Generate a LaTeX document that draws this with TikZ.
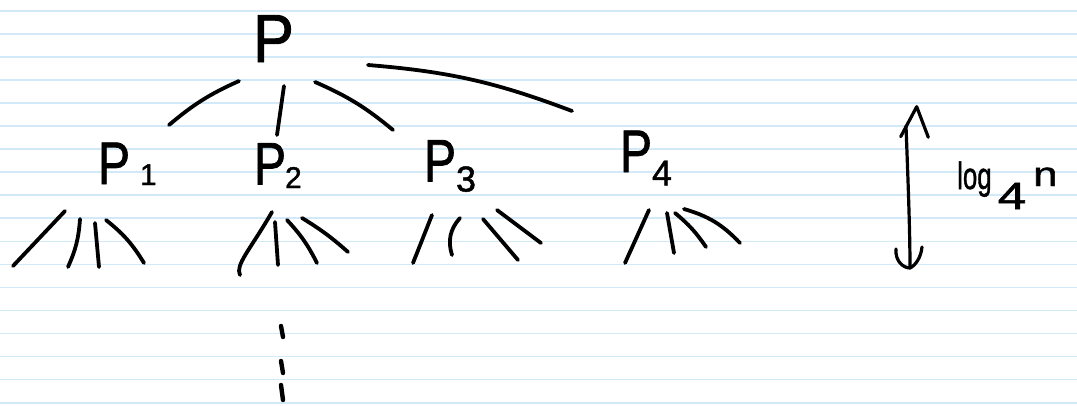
\documentclass[tikz,border=0pt]{standalone}
\usepackage{fontspec}
\setmainfont{Liberation Sans}[FakeBold=1.3]
\usepackage{graphicx}
\definecolor{rulecol}{RGB}{210,233,248}
\newcommand{\subA}{\fontsize{30}{30}\selectfont}
\newcommand{\subB}{\fontsize{36}{36}\selectfont}
\newcommand{\bigP}{\scalebox{0.8}[1]{P}}
\begin{document}
\begin{tikzpicture}[x=1pt,y=-1pt,
  ink/.style={line width=3.8pt, line cap=round, line join=round, draw=black},
  paper/.style={draw=rulecol, line width=1.6pt},
  lbl/.style={inner sep=0pt, outer sep=0pt, anchor=base west, font=\fontsize{60}{60}\selectfont},
]
\useasboundingbox (0,0) rectangle (1077,405);
\fill[white] (0,0) rectangle (1077,405);
\foreach \k in {0,...,17} \draw[paper] (0,10.7+23.06*\k) -- (1077,10.7+23.06*\k);

% labels
\node[inner sep=0pt, anchor=base, font=\fontsize{68}{68}\selectfont] (P) at (273.5,62) {\scalebox{0.9}[1]{P}};
\node[lbl] (P1) at (98,184) {\bigP\kern10pt\raisebox{-1pt}{\subA 1}};
\node[lbl] (P2) at (254,184.5) {\bigP\kern-1pt\raisebox{-3.5pt}{\subA 2}};
\node[lbl] (P3) at (424,181.5) {\bigP\kern0pt\raisebox{-10pt}{\subB 3}};
\node[lbl] (P4) at (620,172) {\bigP\kern0pt\raisebox{-13.5pt}{\subB 4}};
\node[inner sep=0pt, anchor=base west, font=\fontsize{38}{38}\selectfont] (logn) at (957,189)
  {\scalebox{0.68}[1]{log}\kern6pt\raisebox{-20pt}{\scalebox{1.35}[1]{4}}\kern7pt\raisebox{3pt}{\scalebox{1.15}[0.9]{n}}};

% connectors (hand-drawn strokes)
\foreach \n/\xa/\ya/\xb/\yb/\bd in {
  r1/239/81/169/125/-8, r2/284/86/277/135/0, r3/315/82/393/130/8, r4/368/65/572/111/8,
  a1/65/211/13/266/0, a2/80/219/68/267/10, a3/95/223/99/267/0, a4/106/220/144/263/10,
  b2/275/222/278/265/0, b3/287/220/317/263/8, b4/302/218/348/252/5,
  c1/432/215/413/263/0, c2/460/218/452/255/-30, c3/483/219/518/260/0, c4/497/210/541/243/0,
  d1/649/210/625/263/0, d2/667/213/674/253/0, d3/675/213/706/247/8, d4/684/209/740/243/15}
{
  \coordinate (\n s) at (\xa,\ya);
  \coordinate (\n e) at (\xb,\yb);
  \draw[ink] (\n s) to[bend left=\bd] (\n e);
}
\coordinate (b1s) at (272,212);
\coordinate (b1e) at (240,275);
\draw[ink] (b1s) .. controls (250,250) and (235,265) .. (b1e);

% vertical dots under P2
\foreach \n/\ya/\yb in {v1/326/337, v2/361/373, v3/385/400}
{
  \coordinate (\n s) at (281,\ya);
  \coordinate (\n e) at (283,\yb);
  \draw[ink, line width=4.4pt] (\n s) -- (\n e);
}

% height arrow
\coordinate (arS) at (906,126);
\coordinate (arT) at (916.7,106.7);
\coordinate (arB) at (910,268);
\draw[ink, line width=3.2pt] (arS) .. controls (908,180) and (910,230) .. (arB);
\draw[ink, line width=3.2pt] (900.7,136.7) -- (arT) -- (928.3,137.3);
\draw[ink, line width=3.2pt] (896,249) .. controls (895,262) and (904,268) .. (arB) .. controls (916,265) and (921,257) .. (922,247);
\end{tikzpicture}
\end{document}
